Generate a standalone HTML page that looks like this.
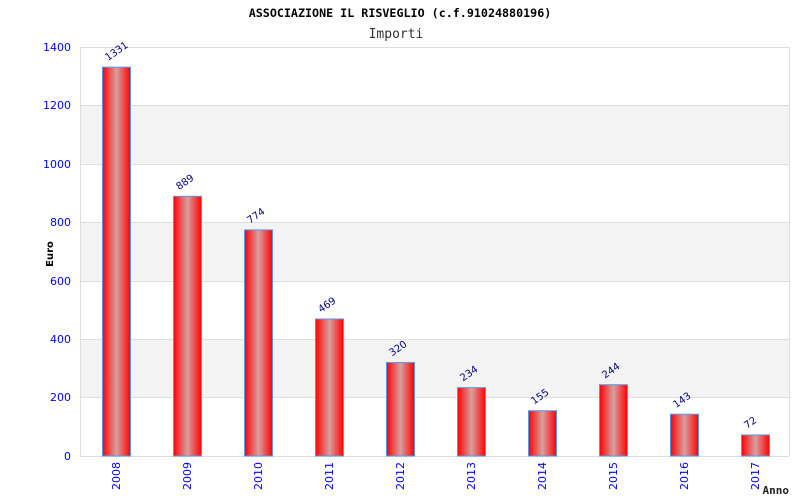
<!DOCTYPE html>
<html><head><meta charset="utf-8"><style>body{margin:0;background:#fff}svg{display:block}</style></head><body>
<svg width="800" height="500" xmlns="http://www.w3.org/2000/svg">
<defs><linearGradient id="g" x1="0" x2="1" y1="0" y2="0">
<stop offset="0" stop-color="#ff0000"/><stop offset="0.5" stop-color="#d8a0a0"/><stop offset="1" stop-color="#ff0000"/></linearGradient></defs>
<rect x="0" y="0" width="800" height="500" fill="#fff"/>
<text x="400" y="17" font-family="DejaVu Sans Mono, Liberation Mono, monospace" font-size="11.7" font-weight="bold" text-anchor="middle" fill="#000">ASSOCIAZIONE IL RISVEGLIO (c.f.91024880196)</text>
<text x="396" y="38" font-family="DejaVu Sans Mono, Liberation Mono, monospace" font-size="13" text-anchor="middle" fill="#333">Importi</text>
<g fill="#f3f3f3">
<rect x="80" y="105.4" width="709" height="58.4"/>
<rect x="80" y="222.3" width="709" height="58.4"/>
<rect x="80" y="339.1" width="709" height="58.4"/>
</g>
<g stroke="#dddddd" stroke-width="1">
<line x1="80" x2="789" y1="47.5" y2="47.5"/>
<line x1="80" x2="789" y1="105.5" y2="105.5"/>
<line x1="80" x2="789" y1="164.5" y2="164.5"/>
<line x1="80" x2="789" y1="222.5" y2="222.5"/>
<line x1="80" x2="789" y1="281.5" y2="281.5"/>
<line x1="80" x2="789" y1="339.5" y2="339.5"/>
<line x1="80" x2="789" y1="397.5" y2="397.5"/>
<line x1="80" x2="789" y1="456.5" y2="456.5"/>
<line x1="80.5" x2="80.5" y1="47" y2="456"/>
<line x1="789.5" x2="789.5" y1="47" y2="456"/>
</g>
<g font-family="DejaVu Sans, Liberation Sans, sans-serif" font-size="11" fill="#0000ff" text-anchor="end">
<text x="71" y="51">1400</text><text x="71" y="109">1200</text><text x="71" y="168">1000</text>
<text x="71" y="226">800</text><text x="71" y="285">600</text><text x="71" y="343">400</text>
<text x="71" y="401">200</text><text x="71" y="460">0</text>
</g>
<text transform="translate(53,254) rotate(-90)" font-family="DejaVu Sans, sans-serif" font-size="10" font-weight="bold" text-anchor="middle" fill="#000">Euro</text>
<text x="789" y="494" font-family="DejaVu Sans Mono, monospace" font-size="11" font-weight="bold" text-anchor="end" fill="#222">Anno</text>
<g id="bars" stroke="#5599ee" stroke-width="1" fill="url(#g)"></g>
<g id="lbl"></g>
<script>
var v=[1331,889,774,469,320,234,155,244,143,72],ns="http://www.w3.org/2000/svg";
var b=document.getElementById("bars"),l=document.getElementById("lbl");
for(var i=0;i<10;i++){var c=116+71*i,y=456-v[i]*0.29214;
var r=document.createElementNS(ns,"rect");r.setAttribute("x",c-13.5);r.setAttribute("y",y);r.setAttribute("width",28);r.setAttribute("height",456-y);b.appendChild(r);
var t=document.createElementNS(ns,"text");t.setAttribute("transform","translate("+(c-8)+","+(y-6)+") rotate(-35)");t.setAttribute("font-family","DejaVu Sans, sans-serif");t.setAttribute("font-size","10");t.setAttribute("fill","#000080");t.textContent=v[i];l.appendChild(t);
var a=document.createElementNS(ns,"text");a.setAttribute("transform","translate("+(c+4)+",462) rotate(-90)");a.setAttribute("font-family","DejaVu Sans, sans-serif");a.setAttribute("font-size","11");a.setAttribute("fill","#0000ff");a.setAttribute("text-anchor","end");a.textContent=2008+i;l.appendChild(a);}
</script>
</svg>
</body></html>
